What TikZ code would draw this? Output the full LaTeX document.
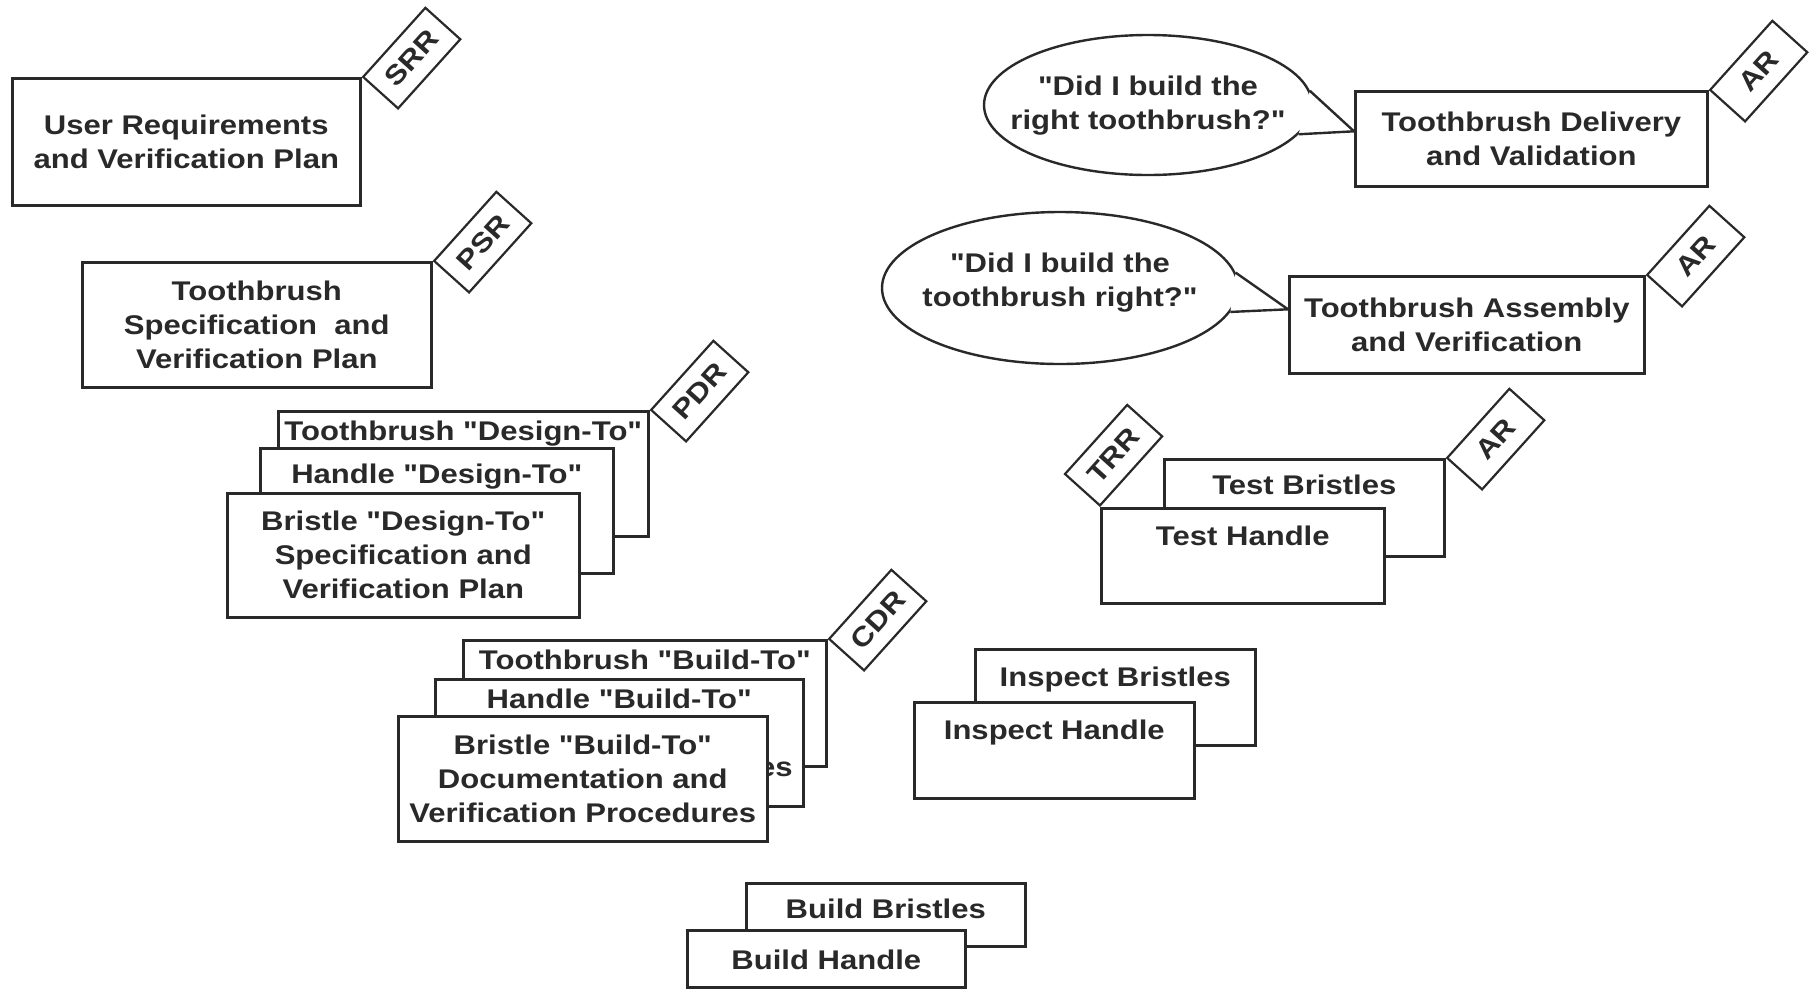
\documentclass[tikz,border=0pt]{standalone}
\usepackage{fontspec}
\setmainfont{Liberation Sans}
\newfontfamily\planfont{Liberation Sans}[FakeStretch=1.15]
\usetikzlibrary{shapes,positioning}
\definecolor{ink}{rgb}{0.16,0.16,0.16}
\newcommand{\planface}{\planfont\bfseries\fontsize{27}{34}\selectfont}
\tikzstyle{plan}=[rectangle, draw=ink, fill=white, line width=2.6pt, inner sep=0pt, anchor=north west, align=center, text=ink, font=\planface]
\tikzstyle{heading}=[anchor=north, inner sep=0pt, align=center, text=ink, font=\planface]
\tikzstyle{review}=[rectangle, draw=ink, fill=white, line width=2.2pt, inner sep=0pt, rotate=48, minimum width=93pt, minimum height=47pt, text=ink, font=\planface]
\tikzstyle{bubble}=[ellipse, draw=ink, fill=white, line width=2.4pt, inner sep=0pt]
\tikzstyle{saying}=[inner sep=0pt, align=center, text=ink, font=\planface]
\tikzstyle{tail}=[draw=ink, line width=2.4pt, line join=round]

\begin{document}
\begin{tikzpicture}[x=1pt, y=-1pt]
    \fill[white] (0,0) rectangle (1812,989);
    \useasboundingbox (0,0) rectangle (1812,989);

    % requirements and specifications
    \node [style=plan, minimum width=348pt, minimum height=127pt] (ureq) at (11,77) {User Requirements\\and Verification Plan};
    \node [style=review, anchor=north west] (srr) at (ureq.north east) {SRR};
    \node [style=plan, minimum width=349pt, minimum height=125pt] (spec) at (81,261) {Toothbrush\\Specification\ \ and\\Verification Plan};
    \node [style=review, anchor=north west] (psr) at (spec.north east) {PSR};

    % design-to stack
    \node [style=plan, minimum width=370pt, minimum height=125pt] (tdes) at (277,410) {};
    \node [style=heading] (tdest) at ([yshift=-11pt]tdes.north) {Toothbrush "Design-To"};
    \node [style=review, anchor=north west] (pdr) at (tdes.north east) {PDR};
    \node [style=plan, minimum width=353pt, minimum height=125pt] (hdes) at (259,447) {};
    \node [style=heading] (hdest) at ([yshift=-17pt]hdes.north) {Handle "Design-To"};
    \node [style=plan, minimum width=352pt, minimum height=124pt] (bdes) at (226,492) {Bristle "Design-To"\\Specification and\\Verification Plan};

    % build-to stack
    \node [style=plan, minimum width=363pt, minimum height=126pt] (tbld) at (462,639) {};
    \node [style=heading] (tbldt) at ([yshift=-11pt]tbld.north) {Toothbrush "Build-To"};
    \node [style=review, anchor=north west] (cdr) at (tbld.north east) {CDR};
    \node [style=plan, minimum width=368pt, minimum height=127pt] (hbld) at (434,678) {};
    \node [style=heading] (hbldt) at ([yshift=-11pt]hbld.north) {Handle "Build-To"\\Documentation and\\Verification Procedures};
    \node [style=plan, minimum width=369pt, minimum height=125pt] (bbld) at (397,715) {Bristle "Build-To"\\Documentation and\\Verification Procedures};

    % build
    \node [style=plan, minimum width=279pt, minimum height=63pt] (bldb) at (745,882) {};
    \node [style=heading] (bldbt) at ([yshift=-17pt]bldb.north) {Build Bristles};
    \node [style=plan, minimum width=278pt, minimum height=57pt] (bldh) at (686,929) {};
    \node [style=heading] (bldht) at ([yshift=-21pt]bldh.north) {Build Handle};

    % inspect
    \node [style=plan, minimum width=280pt, minimum height=96pt] (insb) at (974,648) {};
    \node [style=heading] (insbt) at ([yshift=-19pt]insb.north) {Inspect Bristles};
    \node [style=plan, minimum width=280pt, minimum height=96pt] (insh) at (913,701) {};
    \node [style=heading] (insht) at ([yshift=-19pt]insh.north) {Inspect Handle};

    % test
    \node [style=plan, minimum width=280pt, minimum height=97pt] (tstb) at (1163,458) {};
    \node [style=heading] (tstbt) at ([yshift=-17pt]tstb.north) {Test Bristles};
    \node [style=review, anchor=north west] (ar3) at (tstb.north east) {AR};
    \node [style=plan, minimum width=283pt, minimum height=95pt] (tsth) at (1100,507) {};
    \node [style=heading] (tstht) at ([yshift=-19pt]tsth.north) {Test Handle};
    \node [style=review, anchor=south west] (trr) at (tsth.north west) {TRR};

    % speech bubbles
    \node [style=bubble, minimum width=328pt, minimum height=140pt] (q1) at (1148,105) {};
    \node [style=saying] (q1t) at (1148,106) {"Did I build the\\right toothbrush?"};
    \node [style=bubble, minimum width=356pt, minimum height=152pt] (q2) at (1060,288) {};
    \node [style=saying] (q2t) at (1060,283) {"Did I build the\\toothbrush right?"};

    % assembly and delivery
    \node [style=plan, minimum width=355pt, minimum height=97pt] (asmb) at (1288,275) {Toothbrush Assembly\\and Verification};
    \node [style=review, anchor=north west] (ar2) at (asmb.north east) {AR};
    \node [style=plan, minimum width=352pt, minimum height=95pt] (dlvr) at (1354,90) {Toothbrush Delivery\\and Validation};
    \node [style=review, anchor=north west] (ar1) at (dlvr.north east) {AR};

    % bubble tails
    \coordinate (tip1) at ([yshift=7.5pt]dlvr.west);
    \coordinate (tip2) at ([yshift=15.5pt]asmb.west);
    \fill [white] (q1.5) -- (tip1) -- (q1.-11) -- cycle;
    \draw [style=tail] (q1.5) -- (tip1) -- (q1.-11);
    \fill [white] (q2.5) -- (tip2) -- (q2.-8) -- cycle;
    \draw [style=tail] (q2.5) -- (tip2) -- (q2.-8);
\end{tikzpicture}
\end{document}
